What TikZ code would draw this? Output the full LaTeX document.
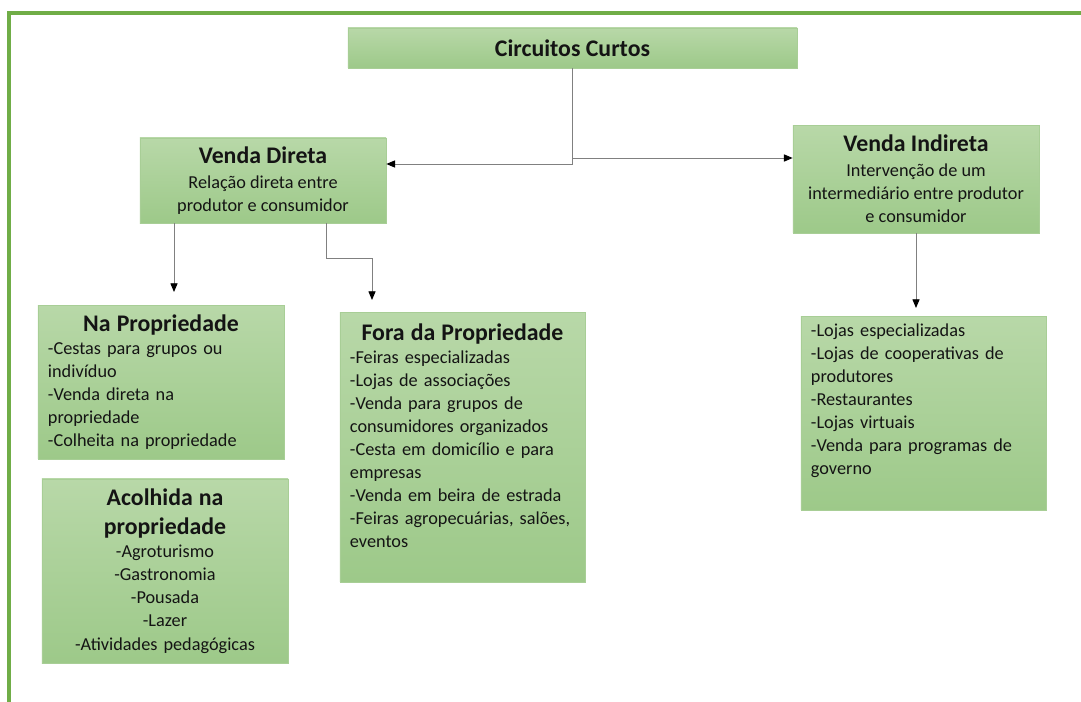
\documentclass[tikz,border=0pt]{standalone}
\usepackage{fontspec}
\setmainfont{Carlito}
\usetikzlibrary{arrows.meta}

\definecolor{moldura}{RGB}{112,173,71}
\definecolor{verdeclaro}{RGB}{184,216,168}
\definecolor{verdeescuro}{RGB}{157,201,137}
\definecolor{bordaverde}{RGB}{168,206,150}
\definecolor{texto}{RGB}{20,20,20}

\newcommand{\boxtitle}[1]{{\fontsize{15}{18.9}\selectfont\bfseries #1}}

\tikzset{
  caixa/.style={rectangle, draw=bordaverde, line width=0.4pt,
    top color=verdeclaro, bottom color=verdeescuro,
    inner sep=0pt, text=texto, font=\fontsize{11.5}{14.5}\selectfont},
  seta/.style={draw=black!50, line width=0.6pt,
    -{Triangle[length=5.5pt,width=4.5pt,color=black]}},
}

\begin{document}
\begin{tikzpicture}[x=0.63pt,y=-0.63pt]
            \useasboundingbox (0,0) rectangle (1081,702);
            \draw [moldura, line width=2pt] (1081,13) -- (9,13) -- (9,702);

            \node [caixa, minimum width=282.9pt, minimum height=25.2pt] (CC) at (572.5,48)
                {\boxtitle{Circuitos Curtos}};
            \node [caixa, minimum width=155pt, minimum height=53.6pt, align=center] (VD) at (263,180.5)
                {\boxtitle{Venda Direta}\\[1pt]Relação direta entre\\produtor e consumidor};
            \node [caixa, minimum width=155pt, minimum height=68pt, align=center] (VI) at (916,179)
                {\boxtitle{Venda Indireta}\\[1pt]Intervenção de um\\intermediário entre produtor\\e consumidor};

            \node [caixa, minimum width=155pt, minimum height=97pt, text width=142.4pt, align=left] (NP) at (161,382)
                {\makebox[\hsize]{\boxtitle{Na Propriedade}}\\-Cestas para grupos ou\\indivíduo\\-Venda direta na\\propriedade\\-Colheita na propriedade};
            \node [caixa, minimum width=155pt, minimum height=116pt, text width=142.4pt, align=center] (AC) at (165,571)
                {\boxtitle{Acolhida na}\\[4pt]\boxtitle{propriedade}\\-Agroturismo\\-Gastronomia\\-Pousada\\-Lazer\\-Atividades pedagógicas};
            \node [caixa, minimum width=154.4pt, minimum height=170pt, text width=141.8pt, align=left] (FP) at (462.5,447)
                {\makebox[\hsize]{\boxtitle{Fora da Propriedade}}\\-Feiras especializadas\\-Lojas de associações\\-Venda para grupos de\\consumidores organizados\\-Cesta em domicílio e para\\empresas\\-Venda em beira de estrada\\-Feiras agropecuárias, salões,\\eventos\\\mbox{}};
            \node [caixa, minimum width=154.4pt, minimum height=122pt, text width=141.8pt, align=left] (LI) at (923.5,413)
                {-Lojas especializadas\\-Lojas de cooperativas de\\produtores\\-Restaurantes\\-Lojas virtuais\\-Venda para programas de\\governo\\[3pt]\mbox{}};

            \coordinate (pNP) at (174,292);
            \coordinate (pFP) at (372,300);
            \coordinate (pLI) at (916,308);

            \draw [seta] (CC.south) -- (CC.south |- 0,164) -- (VD.east |- 0,164);
            \draw [seta] (CC.south |- 0,158) -- (VI.west |- 0,158);
            \draw [seta] (VD.south -| pNP) -- (pNP);
            \draw [seta] (VD.south -| 326,0) -- (326,258) -| (pFP);
            \draw [seta] (VI.south) -- (pLI);
        \end{tikzpicture}
\end{document}
